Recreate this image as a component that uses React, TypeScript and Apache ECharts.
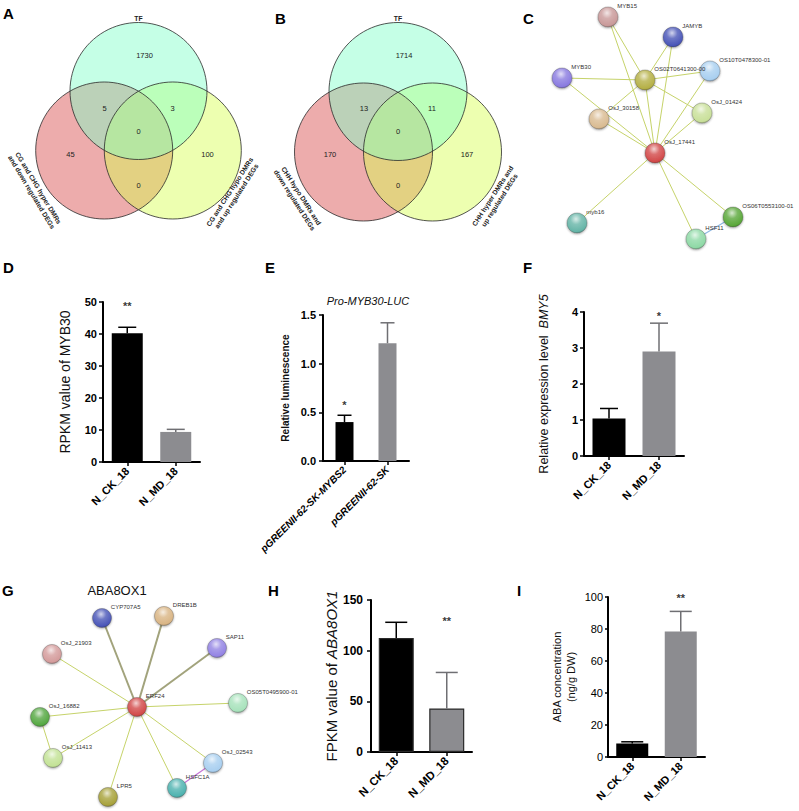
import React, { useEffect, useRef } from 'react';
import * as echarts from 'echarts';

const FONT = '"Liberation Sans", Arial, Helvetica, sans-serif';

// ---------------- Venn diagrams (A, B) ----------------
// region order: TF only, TF∩left, TF∩right, all three, left only, right only, left∩right
const vennACounts = [1730, 5, 3, 0, 45, 100, 0];
const vennBCounts = [1714, 13, 11, 0, 170, 167, 0];
const vennASets = ['TF', 'CG and CHG hyper DMRs\nand down regulated DEGs', 'CG and CHG hypo DMRs\nand up regulated DEGs'];
const vennBSets = ['TF', 'CHH hypo DMRs and\ndown regulated DEGs', 'CHH hyper DMRs and\nup regulated DEGs'];

// ---------------- Network C ----------------
const cNames = ['MYB15', 'JAMYB', 'OS10T0478300-01', 'MYB30', 'OS02T0641300-00', 'OsJ_01424', 'OsJ_30158', 'OsJ_17441', 'myb16', 'OS06T0553100-01', 'HSF11'];
const cX = [78, 143, 180, 32, 115, 172, 69, 125, 47, 203, 166];
const cY = [17, 37, 71, 78, 80, 113, 119, 153, 223, 217, 239];
const cColors = ['#c99a9a', '#4a56b8', '#a9cff0', '#8a7be0', '#b5b046', '#c9e09a', '#d9bb92', '#d24a4a', '#66b5a8', '#5aa83a', '#8fd9a6'];
const cLinks: [number, number][] = [[0, 4], [0, 7], [1, 4], [1, 7], [3, 4], [3, 7], [4, 2], [4, 6], [4, 7], [4, 5], [2, 7], [5, 7], [6, 7], [7, 8], [7, 9], [7, 10], [10, 9]];
const cLinkKinds = ['y', 'y', 'y', 'y', 'y', 'y', 'y', 'y', 'y', 'y', 'y', 'y', 'y', 'y', 'y', 'y', 'b'];

// ---------------- Network G ----------------
const gTitle = 'ABA8OX1';
const gNames = ['CYP707A5', 'DREB1B', 'OsJ_21903', 'SAP11', 'ERF24', 'OS05T0495900-01', 'OsJ_16882', 'OsJ_11413', 'OsJ_02543', 'HSFC1A', 'LPR5'];
const gX = [102, 164, 52, 217, 137, 238, 40, 53, 213, 177, 108];
const gY = [88, 86, 124, 118, 177, 173, 187, 228, 233, 258, 267];
const gColors = ['#4a56b8', '#d9b585', '#d49c9c', '#9484e4', '#d24a4a', '#a8e2bc', '#55a842', '#c3e296', '#a9cff0', '#4fb3b0', '#a8a23c'];
const gLinks: [number, number][] = [[4, 0], [4, 1], [4, 2], [4, 3], [4, 5], [4, 6], [4, 7], [4, 8], [4, 9], [4, 10], [6, 7], [8, 9]];
const gLinkKinds = ['t', 't', 'y', 't', 'y', 'y', 'y', 'y', 'y', 'y', 'y', 'p'];

// ---------------- Bar panels ----------------
const groupCats = ['N_CK_18', 'N_MD_18'];
const lucCats = ['pGREENII-62-SK-MYBS2', 'pGREENII-62-SK'];

const dValues = [40.2, 9.4];
const dErrors = [1.9, 0.8];
const dStars = ['**', ''];
const dStarY = [48.8, 0];

const eValues = [0.4, 1.21];
const eErrors = [0.07, 0.21];
const eStars = ['*', ''];
const eStarY = [0.575, 0];

const fValues = [1.04, 2.9];
const fErrors = [0.28, 0.79];
const fStars = ['', '*'];
const fStarY = [0, 3.9];

const hValues = [112.5, 43];
const hErrors = [15.5, 35.5];
const hStars = ['', '**'];
const hStarY = [0, 129];

const iValues = [8.5, 78.5];
const iErrors = [1.0, 12.5];
const iStars = ['', '**'];
const iStarY = [0, 99.2];

const BAR_COLORS = ['#000000', '#8c8c90'];
const ERR_COLORS = ['#000000', '#6f6f73'];

function hexToRgb(h: string) {
  const n = parseInt(h.slice(1), 16);
  return [(n >> 16) & 255, (n >> 8) & 255, n & 255];
}
function mix(h: string, t: number[], a: number) {
  const c = hexToRgb(h);
  return `rgb(${c.map((v, i) => Math.round(v + (t[i] - v) * a)).join(',')})`;
}
function gloss(h: string) {
  return {
    type: 'radial', x: 0.45, y: 0.3, r: 0.78,
    colorStops: [
      { offset: 0, color: mix(h, [255, 255, 255], 0.75) },
      { offset: 0.35, color: mix(h, [255, 255, 255], 0.2) },
      { offset: 0.8, color: h },
      { offset: 1, color: mix(h, [0, 0, 0], 0.35) },
    ],
  };
}

function vennGraphics(counts: number[], sets: string[], L: any) {
  const out: any[] = [];
  const centers = [
    [L.cx - L.dx, L.cy + L.dy],
    [L.cx + L.dx, L.cy + L.dy],
    [L.cx, L.cy],
  ];
  const fills = ['rgba(214,72,72,0.45)', 'rgba(214,255,80,0.45)', 'rgba(127,255,200,0.45)'];
  centers.forEach((c, i) => {
    out.push({ type: 'circle', shape: { cx: c[0], cy: c[1], r: L.r }, style: { fill: fills[i], stroke: 'none' }, silent: true });
  });
  centers.forEach((c) => {
    out.push({ type: 'circle', shape: { cx: c[0], cy: c[1], r: L.r }, style: { fill: 'none', stroke: '#2a2a2a', lineWidth: 0.8 }, silent: true });
  });
  const offs = [[6, -36], [-34, 17], [34, 17], [0, 40], [-68, 63], [69, 63], [0, 94]];
  counts.forEach((v, i) => {
    out.push({
      type: 'text', x: L.cx + offs[i][0], y: L.cy + offs[i][1], silent: true,
      style: { text: String(v), fontSize: 7.5, fontFamily: FONT, fill: '#222', align: 'center', verticalAlign: 'middle' },
    });
  });
  out.push({ type: 'text', x: L.cx, y: L.cy - L.r - 4, silent: true, style: { text: sets[0], fontSize: 6.8, fontWeight: 'bold', fontFamily: FONT, fill: '#222', align: 'center', verticalAlign: 'middle' } });
  out.push({ type: 'text', x: L.left[0], y: L.left[1], rotation: L.rotL, silent: true, style: { text: sets[1], fontSize: 6.8, fontWeight: 'bold', fontFamily: FONT, fill: '#222', align: 'center', verticalAlign: 'middle', lineHeight: 8 } });
  out.push({ type: 'text', x: L.right[0], y: L.right[1], rotation: L.rotR, silent: true, style: { text: sets[2], fontSize: 6.8, fontWeight: 'bold', fontFamily: FONT, fill: '#222', align: 'center', verticalAlign: 'middle', lineHeight: 8 } });
  return out;
}

const LINK_STYLE: Record<string, any> = {
  y: { color: '#c6d36a', width: 1 },
  b: { color: '#8fb8e2', width: 1.2 },
  t: { color: '#a2a37c', width: 2 },
  p: { color: '#c573d6', width: 1.2 },
};

function network(gi: number, names: string[], xs: number[], ys: number[], colors: string[], links: [number, number][], kinds: string[], size: number) {
  return {
    type: 'graph', coordinateSystem: 'cartesian2d', xAxisIndex: gi, yAxisIndex: gi,
    layout: 'none', silent: true, symbol: 'circle', symbolSize: size, z: 3,
    data: names.map((n, i) => ({
      name: n, value: [xs[i], ys[i]],
      itemStyle: { color: gloss(colors[i]), borderColor: 'rgba(60,60,60,0.5)', borderWidth: 0.6, shadowColor: 'rgba(0,0,0,0.35)', shadowBlur: 2, shadowOffsetY: 1 },
    })),
    links: links.map((l, i) => ({ source: l[0], target: l[1], lineStyle: { ...LINK_STYLE[kinds[i]], opacity: 1, curveness: 0 } })),
    label: { show: true, position: 'right', distance: 0, offset: [-1, -11], fontSize: 6, fontFamily: FONT, color: '#333', formatter: '{b}' },
    emphasis: { disabled: true },
  };
}

function errorBars(gi: number, values: number[], errors: number[], cap: number) {
  return {
    type: 'custom', xAxisIndex: gi, yAxisIndex: gi, silent: true, z: 3,
    data: values.map((v, i) => [i, v, v + errors[i]]),
    encode: { x: 0, y: [1, 2] },
    renderItem: (params: any, api: any) => {
      const i = api.value(0);
      const p0 = api.coord([i, api.value(1)]);
      const p1 = api.coord([i, api.value(2)]);
      const c = ERR_COLORS[params.dataIndex];
      return {
        type: 'group',
        children: [
          { type: 'line', shape: { x1: p0[0], y1: p0[1], x2: p1[0], y2: p1[1] }, style: { stroke: c, lineWidth: 1.5 } },
          { type: 'line', shape: { x1: p1[0] - cap / 2, y1: p1[1], x2: p1[0] + cap / 2, y2: p1[1] }, style: { stroke: c, lineWidth: 1.5 } },
        ],
      };
    },
  };
}

function starSeries(gi: number, texts: string[], ys: number[], size: number) {
  return {
    type: 'scatter', xAxisIndex: gi, yAxisIndex: gi, silent: true, symbolSize: 1, z: 4,
    itemStyle: { color: 'rgba(0,0,0,0)' },
    data: texts.map((t, i) => (t ? { value: [i, ys[i]], label: { formatter: t } } : null)).filter(Boolean),
    label: { show: true, position: 'inside', color: '#000', fontSize: size, fontWeight: 'bold', fontFamily: FONT },
  };
}

function buildOption() {
  const panels: any[] = [
    { grid: { left: 103, top: 302, width: 97, height: 160 }, cats: groupCats, values: dValues, errors: dErrors, stars: dStars, starY: dStarY, max: 50, interval: 10,
      name: 'RPKM value of MYB30', nameStyle: { fontSize: 14 }, nameGap: 31, tickBold: true, tickSize: 11, margin: 6, tickLen: 4,
      xSize: 11, xItalic: false, barWidth: 31, cap: 18, border: false, dec: 0 },
    { grid: { left: 323, top: 315, width: 86, height: 146 }, cats: lucCats, values: eValues, errors: eErrors, stars: eStars, starY: eStarY, max: 1.5, interval: 0.5,
      name: 'Relative luminescence', nameStyle: { fontSize: 10, fontWeight: 'bold' }, nameGap: 33, tickBold: true, tickSize: 11, margin: 7, tickLen: 4,
      xSize: 10, xItalic: true, barWidth: 18, cap: 14, border: false, dec: 1 },
    { grid: { left: 584, top: 312, width: 100, height: 144 }, cats: groupCats, values: fValues, errors: fErrors, stars: fStars, starY: fStarY, max: 4, interval: 1,
      name: '{a|Relative expression level  }{b|BMY5}', nameStyle: { fontSize: 12.5, rich: { a: { fontSize: 12.5, fontFamily: FONT, color: '#111' }, b: { fontSize: 12.5, fontStyle: 'italic', fontFamily: FONT, color: '#111' } } },
      nameGap: 34, tickBold: true, tickSize: 11, margin: 6, tickLen: 4, xSize: 11, xItalic: false, barWidth: 33, cap: 18, border: false, dec: 0 },
    { grid: { left: 371, top: 600, width: 101, height: 152 }, cats: groupCats, values: hValues, errors: hErrors, stars: hStars, starY: hStarY, max: 150, interval: 50,
      name: '{a|FPKM value of }{b|ABA8OX1}', nameStyle: { fontSize: 15, rich: { a: { fontSize: 15, fontFamily: FONT, color: '#111' }, b: { fontSize: 15, fontStyle: 'italic', fontFamily: FONT, color: '#111' } } },
      nameGap: 26, tickBold: true, tickSize: 12, margin: 8, tickLen: 4, xSize: 11.5, xItalic: false, barWidth: 35, cap: 22, border: true, dec: 0 },
    { grid: { left: 608, top: 597, width: 97, height: 160 }, cats: groupCats, values: iValues, errors: iErrors, stars: iStars, starY: iStarY, max: 100, interval: 20,
      name: 'ABA concentration\n(ng/g DW)', nameStyle: { fontSize: 11, lineHeight: 14 }, nameGap: 30, tickBold: false, tickSize: 11, margin: 5, tickLen: 3,
      xSize: 11, xItalic: false, barWidth: 32, cap: 22, border: false, dec: 0 },
  ];

  const grid: any[] = [];
  const xAxis: any[] = [];
  const yAxis: any[] = [];
  const series: any[] = [];

  panels.forEach((p, gi) => {
    grid.push({ ...p.grid, containLabel: false });
    xAxis.push({
      type: 'category', gridIndex: gi, data: p.cats,
      axisLine: { show: true, lineStyle: { color: '#000', width: 2 } },
      axisTick: { show: true, alignWithLabel: true, length: 4, lineStyle: { color: '#000', width: 1.5 } },
      axisLabel: { interval: 0, rotate: 45, margin: 7, color: '#000', fontFamily: FONT, fontWeight: 'bold', fontSize: p.xSize, fontStyle: p.xItalic ? 'italic' : 'normal' },
      splitLine: { show: false },
    });
    yAxis.push({
      type: 'value', gridIndex: gi, min: 0, max: p.max, interval: p.interval,
      name: p.name, nameLocation: 'middle', nameRotate: 90, nameGap: p.nameGap,
      nameTextStyle: { color: '#111', fontFamily: FONT, ...p.nameStyle },
      axisLine: { show: true, lineStyle: { color: '#000', width: 2 } },
      axisTick: { show: true, length: p.tickLen, lineStyle: { color: '#000', width: 1.5 } },
      axisLabel: { color: '#000', fontFamily: FONT, fontSize: p.tickSize, fontWeight: p.tickBold ? 'bold' : 'normal', margin: p.margin, formatter: (v: number) => v.toFixed(p.dec) },
      splitLine: { show: false },
    });
    series.push({
      type: 'bar', xAxisIndex: gi, yAxisIndex: gi, barWidth: p.barWidth, silent: true, z: 2,
      data: p.values.map((v: number, i: number) => ({
        value: v,
        itemStyle: { color: BAR_COLORS[i], borderColor: p.border ? '#2a2a2a' : BAR_COLORS[i], borderWidth: p.border ? 1.2 : 0 },
      })),
    });
    series.push(errorBars(gi, p.values, p.errors, p.cap));
    series.push(starSeries(gi, p.stars, p.starY, 11));
  });

  // network grids
  const cGi = grid.length;
  grid.push({ left: 530, top: 0, width: 269, height: 270 });
  xAxis.push({ type: 'value', gridIndex: cGi, min: 0, max: 269, show: false });
  yAxis.push({ type: 'value', gridIndex: cGi, min: 0, max: 270, inverse: true, show: false });
  series.push(network(cGi, cNames, cX, cY, cColors, cLinks, cLinkKinds, 20));

  const gGi = grid.length;
  grid.push({ left: 0, top: 530, width: 265, height: 281 });
  xAxis.push({ type: 'value', gridIndex: gGi, min: 0, max: 265, show: false });
  yAxis.push({ type: 'value', gridIndex: gGi, min: 0, max: 281, inverse: true, show: false });
  series.push(network(gGi, gNames, gX, gY, gColors, gLinks, gLinkKinds, 19));

  const graphic: any[] = [
    ...vennGraphics(vennACounts, vennASets, { cx: 138.5, cy: 91, r: 68.5, dx: 34.3, dy: 59.5, left: [35, 190], right: [233, 194], rotL: -1.03, rotR: 1.0 }),
    ...vennGraphics(vennBCounts, vennBSets, { cx: 398, cy: 91.5, r: 69, dx: 34.5, dy: 60.5, left: [298, 198], right: [496, 198], rotL: -1.0, rotR: 1.0 }),
    { type: 'text', x: 368, y: 301, silent: true, style: { text: 'Pro-MYB30-LUC', fontSize: 11, fontStyle: 'italic', fontFamily: FONT, fill: '#111', align: 'center', verticalAlign: 'middle' } },
    { type: 'text', x: 117, y: 590, silent: true, style: { text: gTitle, fontSize: 13, fontFamily: FONT, fill: '#111', align: 'center', verticalAlign: 'middle' } },
  ];
  const letters: [string, number, number][] = [['A', 3, 6], ['B', 275, 11], ['C', 523, 11], ['D', 3, 260], ['E', 265, 260], ['F', 523, 260], ['G', 2, 583], ['H', 268, 583], ['I', 517, 583]];
  letters.forEach(([t, x, y]) => {
    graphic.push({ type: 'text', x, y, silent: true, style: { text: t, fontSize: 15, fontWeight: 'bold', fontFamily: FONT, fill: '#000', align: 'left', verticalAlign: 'top' } });
  });

  return { animation: false, backgroundColor: '#fff', grid, xAxis, yAxis, series, graphic };
}

export default function App() {
  const ref = useRef<HTMLDivElement>(null);
  useEffect(() => {
    if (!ref.current) return;
    const chart = echarts.init(ref.current, null, { renderer: 'svg' });
    chart.setOption(buildOption() as any);
    return () => chart.dispose();
  }, []);
  return <div ref={ref} style={{ position: 'fixed', left: 0, top: 0, width: 799, height: 811, background: '#fff' }} />;
}
